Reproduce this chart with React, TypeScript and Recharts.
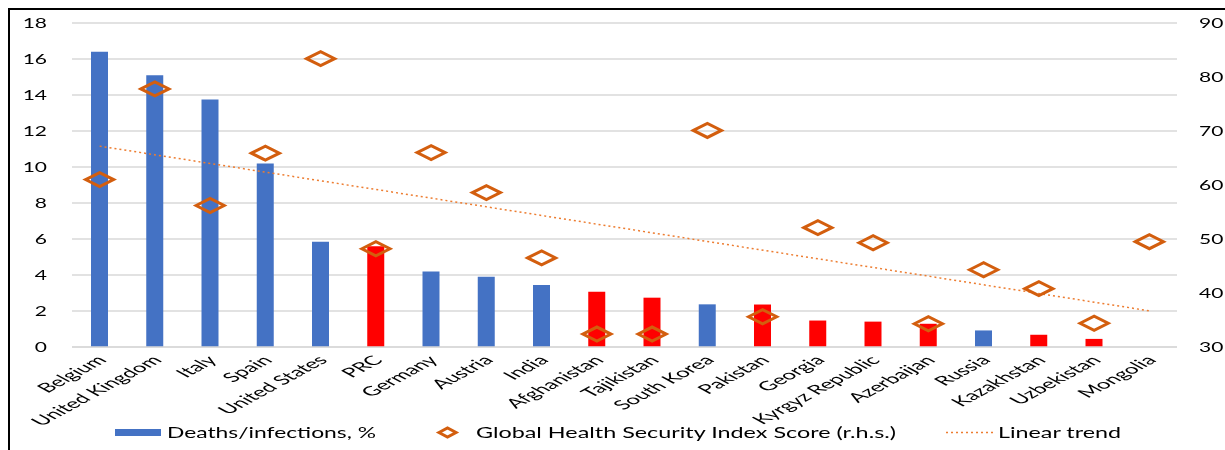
import { ComposedChart, Bar, Cell, Scatter, XAxis, YAxis, CartesianGrid, ReferenceLine, Legend } from 'recharts';

const countries = [
    'Belgium', 'United Kingdom', 'Italy', 'Spain', 'United States', 'PRC', 'Germany', 'Austria',
    'India', 'Afghanistan', 'Tajikistan', 'South Korea', 'Pakistan', 'Georgia', 'Kyrgyz Republic',
    'Azerbaijan', 'Russia', 'Kazakhstan', 'Uzbekistan', 'Mongolia',
];
// deaths per confirmed infection, %
const deathRates = [16.4, 15.1, 13.75, 10.2, 5.85, 5.6, 4.2, 3.9, 3.44, 3.07, 2.74, 2.37, 2.36, 1.47, 1.41, 1.29, 0.92, 0.68, 0.45, 0];
// Global Health Security Index score (right axis)
const ghsScores = [61.0, 77.8, 56.2, 65.9, 83.4, 48.2, 66.0, 58.6, 46.5, 32.4, 32.4, 70.1, 35.6, 52.1, 49.3, 34.3, 44.3, 40.8, 34.4, 49.5];
// countries shown in red
const carecMembers = [
    'PRC', 'Afghanistan', 'Tajikistan', 'Pakistan', 'Georgia', 'Kyrgyz Republic',
    'Azerbaijan', 'Kazakhstan', 'Uzbekistan', 'Mongolia',
];
// linear trend of the GHS score, first and last country
const trendStart = 67.2;
const trendEnd = 36.7;

const leftTicks = [0, 2, 4, 6, 8, 10, 12, 14, 16, 18];
const rightTicks = [30, 40, 50, 60, 70, 80, 90];

const data = countries.map((country, i) => ({
    country,
    deaths: deathRates[i],
    ghs: ghsScores[i],
}));

const BLUE = '#4472C4';
const RED = '#FF0000';
const ORANGE = '#D35E0E';
const TREND = '#ED7D31';
const FONT = 'Lato, "Noto Sans", sans-serif';

function LeftTick({ x, y, payload }: any) {
    return (
        <text transform={`translate(${x},${y}) scale(1.5,1)`} textAnchor="end" dy="0.36em"
            fontFamily={FONT} fontSize={14} fill="#000">
            {payload.value}
        </text>
    );
}

function RightTick({ x, y, payload }: any) {
    return (
        <text transform={`translate(${x},${y}) scale(1.5,1)`} textAnchor="start" dy="0.36em"
            fontFamily={FONT} fontSize={14} fill="#000">
            {payload.value}
        </text>
    );
}

function CountryTick({ x, y, payload }: any) {
    return (
        <text transform={`translate(${x + 8},${y + 14}) scale(1.85,1) rotate(-45)`} textAnchor="end"
            fontFamily={FONT} fontSize={13} fill="#000">
            {payload.value}
        </text>
    );
}

function Diamond({ cx, cy }: any) {
    if (cx == null || cy == null) return null;
    return (
        <polygon
            points={`${cx - 14},${cy} ${cx},${cy - 7} ${cx + 14},${cy} ${cx},${cy + 7}`}
            fill="none" stroke={ORANGE} strokeWidth={3}
        />
    );
}

function LegendContent() {
    const text = { fontFamily: FONT, fontSize: 15, fill: '#000' };
    return (
        <svg width={1215} height={30} style={{ display: 'block' }}>
            <rect x={105} y={12} width={46} height={7} fill={BLUE} />
            <text x={157} y={21} textLength={209} lengthAdjust="spacingAndGlyphs" {...text}>Deaths/infections, %</text>
            <polygon points="429,15.5 437.5,11 446,15.5 437.5,20" fill="none" stroke={ORANGE} strokeWidth={3} />
            <text x={466} y={21} textLength={420} lengthAdjust="spacingAndGlyphs" {...text}>Global Health Security Index Score (r.h.s.)</text>
            <line x1={936} y1={15.5} x2={983} y2={15.5} stroke={TREND} strokeWidth={1.5} strokeDasharray="2 3" />
            <text x={988} y={21} textLength={123} lengthAdjust="spacingAndGlyphs" {...text}>Linear trend</text>
        </svg>
    );
}

export default function App() {
    return (
        <div style={{
            position: 'fixed', left: 8, top: 8, width: 1217, height: 442,
            borderTop: '2px solid #000', borderLeft: '2px solid #000', boxSizing: 'border-box', overflow: 'hidden',
        }}>
            <ComposedChart width={1215} height={440} data={data} margin={{ top: 13, right: 0, bottom: 3, left: 0 }}>
                <CartesianGrid yAxisId="left" vertical={false} stroke="#D9D9D9" strokeWidth={1.5} />
                <XAxis dataKey="country" interval={0} tickLine={false} axisLine={{ stroke: '#D9D9D9', strokeWidth: 1.5 }}
                    tickSize={0} tickMargin={0} height={70} tick={<CountryTick />} />
                <YAxis yAxisId="left" domain={[0, 18]} ticks={leftTicks} width={62} axisLine={false} tickLine={false}
                    tickSize={0} tickMargin={25} tick={<LeftTick />} />
                <YAxis yAxisId="right" orientation="right" domain={[30, 90]} ticks={rightTicks} width={48}
                    axisLine={false} tickLine={false} tickSize={0} tickMargin={22} tick={<RightTick />} />
                <Bar yAxisId="left" dataKey="deaths" barSize={17} isAnimationActive={false}>
                    {data.map((entry) => (
                        <Cell key={entry.country} fill={carecMembers.includes(entry.country) ? RED : BLUE} />
                    ))}
                </Bar>
                <ReferenceLine
                    yAxisId="right"
                    segment={[
                        { x: countries[0], y: trendStart },
                        { x: countries[countries.length - 1], y: trendEnd },
                    ]}
                    stroke={TREND}
                    strokeWidth={1.5}
                    strokeDasharray="2 3"
                />
                <Scatter yAxisId="right" dataKey="ghs" shape={<Diamond />} isAnimationActive={false} />
                <Legend verticalAlign="bottom" height={30} content={<LegendContent />} wrapperStyle={{ left: 0, width: 1215 }} />
            </ComposedChart>
        </div>
    );
}
